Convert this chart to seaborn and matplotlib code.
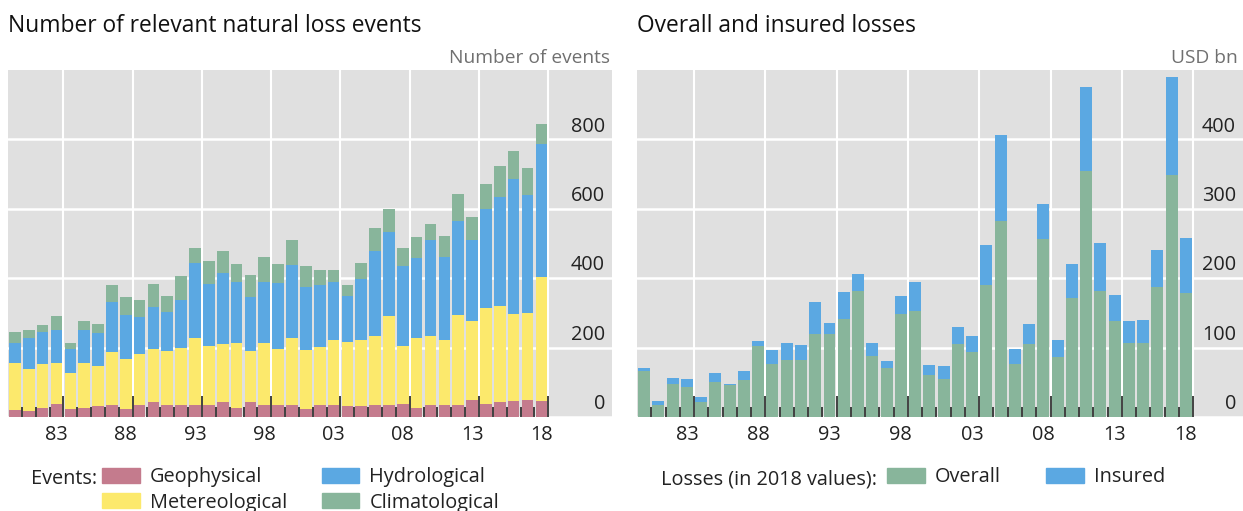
import numpy as np
import pandas as pd
import seaborn as sns
import matplotlib.pyplot as plt
import matplotlib.transforms as mtransforms
from matplotlib.patches import Patch

years = list(range(1980, 2019))

# number of events by type
geophysical = [21, 17, 25, 38, 24, 25, 31, 34, 24, 34,
               43, 35, 35, 35, 36, 44, 27, 42, 34, 36,
               36, 24, 36, 36, 31, 31, 34, 34, 38, 27,
               36, 36, 36, 48, 38, 43, 46, 48, 45]
meteorological = [135, 122, 127, 119, 103, 130, 115, 153, 144, 148,
                  154, 155, 164, 193, 170, 167, 186, 148, 179, 161,
                  191, 170, 167, 186, 185, 190, 198, 256, 168, 201,
                  196, 185, 258, 230, 277, 276, 251, 252, 358]
hydrological = [58, 89, 92, 94, 70, 96, 96, 144, 127, 106,
                121, 114, 137, 215, 178, 203, 175, 155, 175, 189,
                212, 182, 178, 166, 132, 177, 246, 244, 228, 229,
                278, 241, 270, 232, 284, 314, 388, 341, 383]
climatological = [31, 24, 22, 39, 16, 27, 25, 50, 50, 50,
                  64, 46, 70, 44, 67, 63, 53, 65, 74, 55,
                  71, 60, 43, 37, 31, 45, 66, 65, 53, 63,
                  46, 61, 79, 67, 72, 91, 82, 78, 58]

# losses, USD bn (right panel)
overall = [66, 17, 47, 43, 22, 51, 46, 54, 103, 76,
           82, 82, 119, 119, 141, 181, 88, 70, 148, 153,
           61, 55, 105, 93, 190, 283, 76, 105, 257, 86,
           172, 355, 182, 138, 107, 107, 188, 348, 178]
insured = [5, 6, 9, 12, 7, 12, 2, 12, 7, 21,
           24, 22, 46, 17, 39, 25, 19, 11, 27, 41,
           14, 19, 24, 23, 58, 123, 22, 29, 50, 25,
           48, 120, 69, 38, 32, 33, 52, 142, 80]

tick_years = [1983, 1988, 1993, 1998, 2003, 2008, 2013, 2018]
tick_labels = ["83", "88", "93", "98", "03", "08", "13", "18"]

PINK = "#c47b8d"
YELLOW = "#fce96c"
BLUE = "#5ba8e2"
GREEN = "#88b59b"
BG = "#e0e0e0"
TEXT = "#222222"
GREY = "#707070"
FS = 14.3

events = pd.DataFrame({
    "year": years,
    "Geophysical": geophysical,
    "Metereological": meteorological,
    "Hydrological": hydrological,
    "Climatological": climatological,
})
stack_cols = ["Geophysical", "Metereological", "Hydrological", "Climatological"]
events_top = events[stack_cols].cumsum(axis=1)
events_top["year"] = years

losses = pd.DataFrame({"year": years, "Overall": overall, "Insured": insured})
losses["top"] = losses["Overall"] + losses["Insured"]

sns.set_theme(style="white")
plt.rcParams["font.family"] = ["Open Sans", "DejaVu Sans"]

fig = plt.figure(figsize=(12.43, 5.11), dpi=100)
ax1 = fig.add_axes([8 / 1243, 94 / 511, 604 / 1243, 347 / 511])
ax2 = fig.add_axes([637 / 1243, 94 / 511, 606 / 1243, 347 / 511])

bar_kw = dict(errorbar=None, native_scale=True, width=0.84, saturation=1,
              linewidth=0)

# stacked bars: draw tallest layer first
for col, c in zip(stack_cols[::-1], [GREEN, BLUE, YELLOW, PINK]):
    sns.barplot(data=events_top, x="year", y=col, color=c, ax=ax1, **bar_kw)

sns.barplot(data=losses, x="year", y="top", color=BLUE, ax=ax2, **bar_kw)
sns.barplot(data=losses, x="year", y="Overall", color=GREEN, ax=ax2, **bar_kw)


def style_axis(ax, xmax, ymax, ystep):
    ax.set_facecolor(BG)
    ax.set_xlim(1979.5, xmax)
    ax.set_ylim(0, ymax)
    ax.set_axisbelow(True)
    ax.set_xlabel("")
    ax.set_ylabel("")
    for s in ax.spines.values():
        s.set_visible(False)

    # y labels sit inside the panel, right aligned, above the gridline
    ax.yaxis.tick_right()
    ax.set_yticks(np.arange(0, ymax, ystep))
    ax.tick_params(axis="y", length=0, pad=-5, labelsize=FS, labelcolor=TEXT)
    offset = mtransforms.ScaledTranslation(0, 2 / 72, fig.dpi_scale_trans)
    for lbl in ax.get_yticklabels():
        lbl.set_horizontalalignment("right")
        lbl.set_verticalalignment("bottom")
        lbl.set_transform(lbl.get_transform() + offset)
    ax.grid(axis="y", color="white", lw=1.8)

    # vertical grid at the 5-year boundaries, labels under the bars
    bounds5 = [y + 0.5 for y in tick_years]
    ax.set_xticks(bounds5)
    ax.set_xticks(tick_years, tick_labels, minor=True)
    ax.tick_params(axis="x", which="both", length=0, labelbottom=False)
    ax.tick_params(axis="x", which="minor", labelbottom=True, pad=6,
                   labelsize=FS, labelcolor=TEXT)
    ax.grid(axis="x", which="major", color="white", lw=1.5)

    # tick marks drawn over the bars
    sec = ax.secondary_xaxis("bottom")
    sec.set_zorder(3)
    sec.spines["bottom"].set_visible(False)
    sec.set_xticks(bounds5, [""] * len(bounds5))
    sec.set_xticks([y + 0.5 for y in years], minor=True)
    sec.tick_params(which="major", direction="in", length=15, width=1.3,
                    color="#333333")
    sec.tick_params(which="minor", direction="in", length=7.5, width=1.3,
                    color="#333333")
    sec.xaxis.set_minor_formatter(plt.NullFormatter())


style_axis(ax1, 2023.1, 1000, 200)
style_axis(ax2, 2022.0, 500, 100)

fig.text(8 / 1243, 1 - 32 / 511, "Number of relevant natural loss events",
         fontsize=16.4, color="#111111", va="baseline")
fig.text(637 / 1243, 1 - 32 / 511, "Overall and insured losses",
         fontsize=16.4, color="#111111", va="baseline")
fig.text(610 / 1243, 1 - 63 / 511, "Number of events", fontsize=13.8,
         color=GREY, ha="right", va="baseline")
fig.text(1238 / 1243, 1 - 63 / 511, "USD bn", fontsize=13.8,
         color=GREY, ha="right", va="baseline")

# legends
fig.text(31 / 1243, 1 - 479 / 511, "Events:", fontsize=FS, color=TEXT,
         va="center")
ev_handles = [Patch(color=PINK, label="Geophysical"),
              Patch(color=YELLOW, label="Metereological"),
              Patch(color=BLUE, label="Hydrological"),
              Patch(color=GREEN, label="Climatological")]
fig.legend(handles=ev_handles, loc="upper left",
           bbox_to_anchor=(102 / 1243, 1 - 467 / 511), ncol=2, frameon=False,
           fontsize=FS, handlelength=1.9, handleheight=0.8, handletextpad=0.5,
           columnspacing=1.75, labelspacing=0.28, borderpad=0,
           borderaxespad=0, labelcolor=TEXT)

fig.text(661 / 1243, 1 - 479 / 511, "Losses (in 2018 values):", fontsize=FS,
         color=TEXT, va="center")
loss_handles = [Patch(color=GREEN, label="Overall"),
                Patch(color=BLUE, label="Insured")]
fig.legend(handles=loss_handles, loc="upper left",
           bbox_to_anchor=(887 / 1243, 1 - 467 / 511), ncol=2, frameon=False,
           fontsize=FS, handlelength=1.9, handleheight=0.8, handletextpad=0.5,
           columnspacing=2.3, borderpad=0, borderaxespad=0, labelcolor=TEXT)

fig.savefig("out.png", dpi=100)
